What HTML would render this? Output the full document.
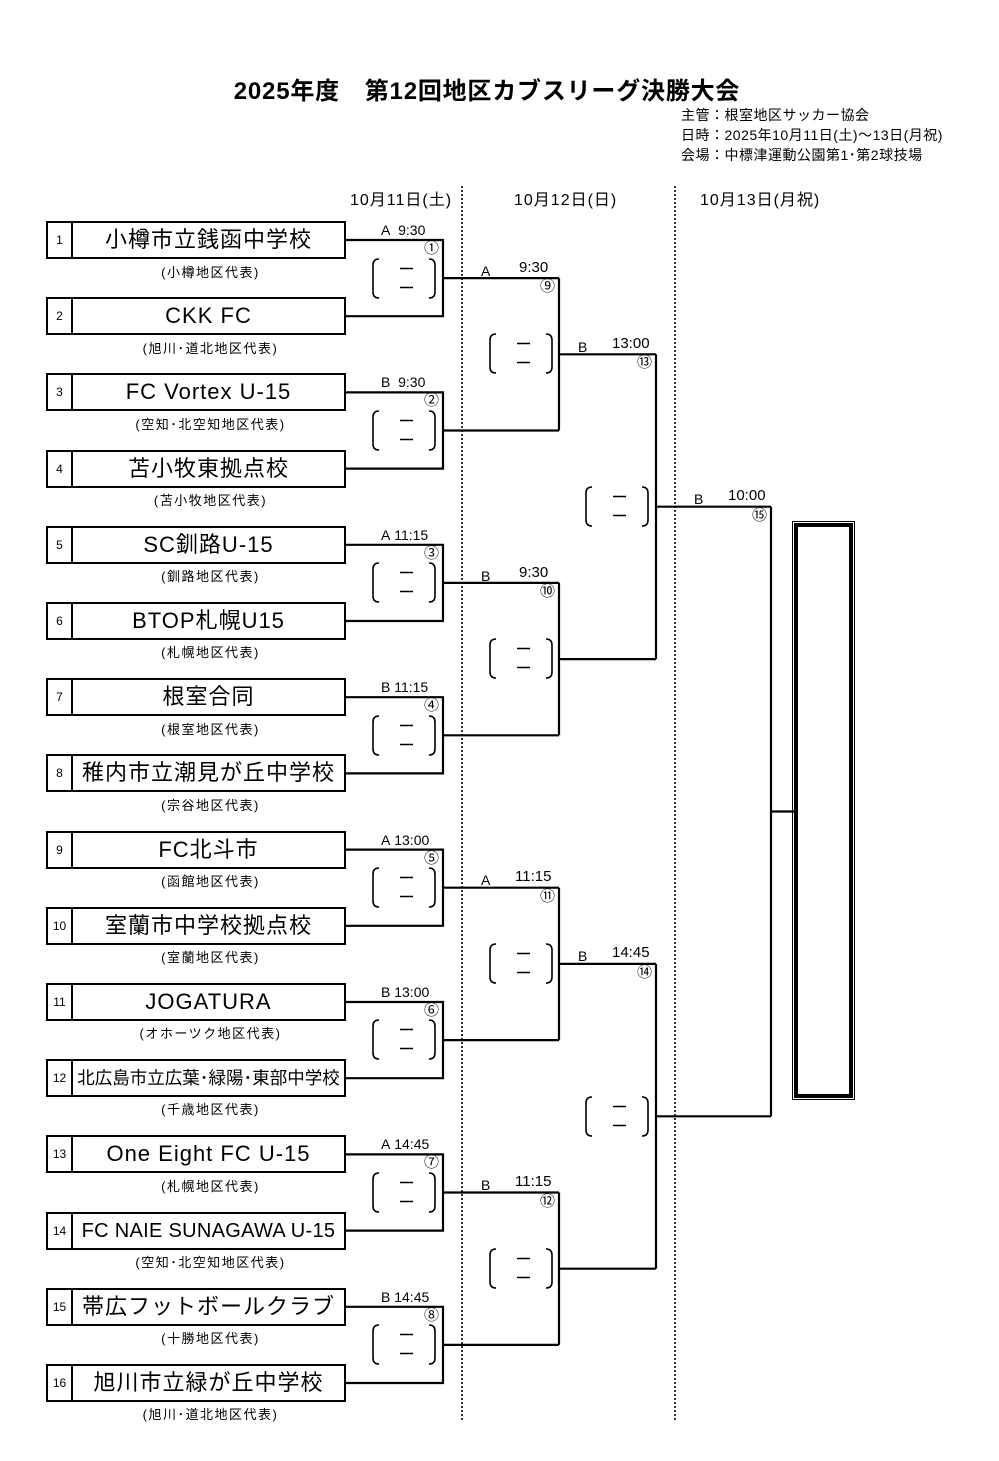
<!DOCTYPE html>
<html><head><meta charset="utf-8">
<style>
body{margin:0;background:#fff;}
#p{position:relative;width:999px;height:1461px;overflow:hidden;font-family:"Liberation Sans","Noto Sans CJK JP",sans-serif;color:#000;}
.a{position:absolute;white-space:nowrap;}
.team{position:absolute;left:46px;width:300px;height:38px;box-sizing:border-box;border:2px solid #000;}
.num{position:absolute;left:0;top:0;width:23px;height:34px;border-right:2px solid #000;font-size:12px;line-height:34px;text-align:center;}
.nm{position:absolute;left:25px;right:0;top:0;height:34px;line-height:34px;text-align:center;font-size:22px;letter-spacing:1px;}
.sub{position:absolute;left:73px;width:275px;text-align:center;font-size:13px;letter-spacing:1.5px;}
.lb{position:absolute;font-size:14px;line-height:16px;}
.c{position:absolute;font-size:15px;line-height:16px;}
.d{position:absolute;font-size:16px;letter-spacing:1px;}
</style></head><body><div id="p">

<div class="a" style="left:0;width:974px;top:71px;text-align:center;font-size:24px;font-weight:bold;letter-spacing:0.8px;">2025年度　第12回地区カブスリーグ決勝大会</div>
<div class="a" style="left:681px;top:105px;font-size:14px;line-height:20px;letter-spacing:0.5px;">主管：根室地区サッカー協会<br>日時：2025年10月11日(土)～13日(月祝)<br>会場：中標津運動公園第1･第2球技場</div>

<div class="d a" style="left:350px;top:186px;">10月11日(土)</div>
<div class="d a" style="left:514px;top:186px;">10月12日(日)</div>
<div class="d a" style="left:700px;top:186px;">10月13日(月祝)</div>

<svg class="a" style="left:0;top:0" width="999" height="1461">
<defs>
<g id="br"><path d="M7 0 Q1 0 1 6 V33 Q1 39 7 39 M57 0 Q63 0 63 6 V33 Q63 39 57 39 M28 9.5 H41 M28 28.5 H41" fill="none" stroke="#000" stroke-width="1.6"/></g>
</defs>
<g stroke="#000" stroke-width="1.6" stroke-dasharray="2,2"><line x1="462" y1="186" x2="462" y2="1421"/><line x1="675" y1="186" x2="675" y2="1421"/></g>
<g fill="none" stroke="#000" stroke-width="2.2">
<path d="M346 240H443V316.2H346M443 278.1H559"/>
<path d="M346 392.4H443V468.6H346M443 430.5H559"/>
<path d="M346 544.8H443V621H346M443 582.9H559"/>
<path d="M346 697.2H443V773.4H346M443 735.3H559"/>
<path d="M346 849.6H443V925.8H346M443 887.7H559"/>
<path d="M346 1002H443V1078.2H346M443 1040.1H559"/>
<path d="M346 1154.4H443V1230.6H346M443 1192.5H559"/>
<path d="M346 1306.8H443V1383H346M443 1344.9H559"/>
<path d="M559 278.1V430.5M559 354.3H656"/>
<path d="M559 582.9V735.3M559 659.1H656"/>
<path d="M559 887.7V1040.1M559 963.9H656"/>
<path d="M559 1192.5V1344.9M559 1268.7H656"/>
<path d="M656 354.3V659.1M656 506.7H771"/>
<path d="M656 963.9V1268.7M656 1116.3H771"/>
<path d="M771 506.7V1116.3M771 811.5H795"/>
</g>
<use href="#br" x="372" y="259"/><use href="#br" x="372" y="411"/><use href="#br" x="372" y="563"/><use href="#br" x="372" y="716"/>
<use href="#br" x="372" y="868"/><use href="#br" x="372" y="1020"/><use href="#br" x="372" y="1173"/><use href="#br" x="372" y="1325"/>
<use href="#br" x="489" y="334"/><use href="#br" x="489" y="639"/><use href="#br" x="489" y="944"/><use href="#br" x="489" y="1249"/>
<use href="#br" x="585" y="487"/><use href="#br" x="585" y="1097"/>
</svg>

<div class="a" style="left:794px;top:523px;width:59px;height:575px;box-sizing:border-box;border:4px solid #000;outline:1px solid #000;outline-offset:1px;"></div>

<div class="team" style="top:221px"><div class="num">1</div><div class="nm">小樽市立銭函中学校</div></div>
<div class="sub" style="top:262px">(小樽地区代表)</div>
<div class="team" style="top:297.2px"><div class="num">2</div><div class="nm">CKK FC</div></div>
<div class="sub" style="top:338px">(旭川･道北地区代表)</div>
<div class="team" style="top:373.4px"><div class="num">3</div><div class="nm">FC Vortex U-15</div></div>
<div class="sub" style="top:414px">(空知･北空知地区代表)</div>
<div class="team" style="top:449.6px"><div class="num">4</div><div class="nm">苫小牧東拠点校</div></div>
<div class="sub" style="top:490px">(苫小牧地区代表)</div>
<div class="team" style="top:525.8px"><div class="num">5</div><div class="nm">SC釧路U-15</div></div>
<div class="sub" style="top:566px">(釧路地区代表)</div>
<div class="team" style="top:602px"><div class="num">6</div><div class="nm">BTOP札幌U15</div></div>
<div class="sub" style="top:642px">(札幌地区代表)</div>
<div class="team" style="top:678.2px"><div class="num">7</div><div class="nm">根室合同</div></div>
<div class="sub" style="top:719px">(根室地区代表)</div>
<div class="team" style="top:754.4px"><div class="num">8</div><div class="nm">稚内市立潮見が丘中学校</div></div>
<div class="sub" style="top:795px">(宗谷地区代表)</div>
<div class="team" style="top:830.6px"><div class="num">9</div><div class="nm">FC北斗市</div></div>
<div class="sub" style="top:871px">(函館地区代表)</div>
<div class="team" style="top:906.8px"><div class="num">10</div><div class="nm">室蘭市中学校拠点校</div></div>
<div class="sub" style="top:947px">(室蘭地区代表)</div>
<div class="team" style="top:983px"><div class="num">11</div><div class="nm">JOGATURA</div></div>
<div class="sub" style="top:1023px">(オホーツク地区代表)</div>
<div class="team" style="top:1059.2px"><div class="num">12</div><div class="nm" style="font-size:17.5px;letter-spacing:0">北広島市立広葉･緑陽･東部中学校</div></div>
<div class="sub" style="top:1099px">(千歳地区代表)</div>
<div class="team" style="top:1135.4px"><div class="num">13</div><div class="nm">One Eight FC U-15</div></div>
<div class="sub" style="top:1176px">(札幌地区代表)</div>
<div class="team" style="top:1211.6px"><div class="num">14</div><div class="nm" style="font-size:20px;letter-spacing:0.3px">FC NAIE SUNAGAWA U-15</div></div>
<div class="sub" style="top:1252px">(空知･北空知地区代表)</div>
<div class="team" style="top:1287.8px"><div class="num">15</div><div class="nm">帯広フットボールクラブ</div></div>
<div class="sub" style="top:1328px">(十勝地区代表)</div>
<div class="team" style="top:1364px"><div class="num">16</div><div class="nm">旭川市立緑が丘中学校</div></div>
<div class="sub" style="top:1404px">(旭川･道北地区代表)</div>

<div class="lb" style="left:381px;top:222px">A&nbsp;&nbsp;9:30</div><div class="c" style="left:424px;top:241px">①</div>
<div class="lb" style="left:381px;top:374px">B&nbsp;&nbsp;9:30</div><div class="c" style="left:424px;top:393px">②</div>
<div class="lb" style="left:381px;top:527px">A&nbsp;11:15</div><div class="c" style="left:424px;top:546px">③</div>
<div class="lb" style="left:381px;top:679px">B&nbsp;11:15</div><div class="c" style="left:424px;top:698px">④</div>
<div class="lb" style="left:381px;top:832px">A&nbsp;13:00</div><div class="c" style="left:424px;top:851px">⑤</div>
<div class="lb" style="left:381px;top:984px">B&nbsp;13:00</div><div class="c" style="left:424px;top:1003px">⑥</div>
<div class="lb" style="left:381px;top:1136px">A&nbsp;14:45</div><div class="c" style="left:424px;top:1155px">⑦</div>
<div class="lb" style="left:381px;top:1289px">B&nbsp;14:45</div><div class="c" style="left:424px;top:1308px">⑧</div>

<div class="lb" style="left:481px;top:263px">A</div><div class="lb" style="left:519px;top:260px;font-size:15px">9:30</div><div class="c" style="left:540px;top:279px">⑨</div>
<div class="lb" style="left:481px;top:568px">B</div><div class="lb" style="left:519px;top:565px;font-size:15px">9:30</div><div class="c" style="left:540px;top:584px">⑩</div>
<div class="lb" style="left:481px;top:872px">A</div><div class="lb" style="left:515px;top:869px;font-size:15px">11:15</div><div class="c" style="left:540px;top:889px">⑪</div>
<div class="lb" style="left:481px;top:1177px">B</div><div class="lb" style="left:515px;top:1174px;font-size:15px">11:15</div><div class="c" style="left:540px;top:1194px">⑫</div>

<div class="lb" style="left:578px;top:339px">B</div><div class="lb" style="left:612px;top:336px;font-size:15px">13:00</div><div class="c" style="left:637px;top:355px">⑬</div>
<div class="lb" style="left:578px;top:948px">B</div><div class="lb" style="left:612px;top:945px;font-size:15px">14:45</div><div class="c" style="left:637px;top:965px">⑭</div>

<div class="lb" style="left:694px;top:491px">B</div><div class="lb" style="left:728px;top:488px;font-size:15px">10:00</div><div class="c" style="left:752px;top:508px">⑮</div>

</div></body></html>
